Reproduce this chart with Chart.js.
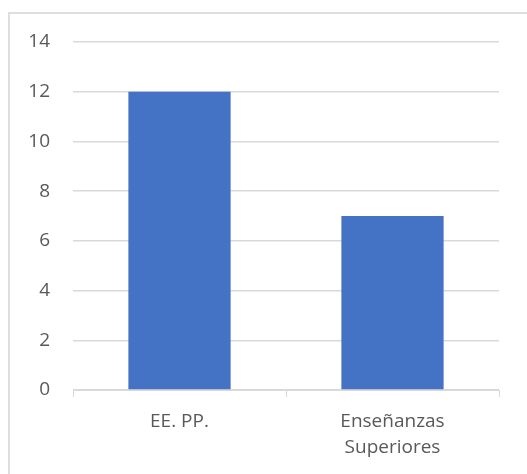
<!DOCTYPE html>
<html>
<head>
<meta charset="utf-8">
<script src="https://cdn.jsdelivr.net/npm/chart.js@4"></script>
<style>
  html, body { margin: 0; padding: 0; background: #fff; }
  #wrap {
    position: absolute; left: 8px; top: 12px;
    border-left: 2px solid #dedede; border-top: 2px solid #dedede;
  }
  canvas { display: block; }
</style>
</head>
<body>
<div id="wrap"><canvas id="grafico" width="517" height="460"></canvas></div>
<script>
// Datos
const categorias = ['EE. PP.', ['Enseñanzas', 'Superiores']];
const valores = [12, 7];
const marcasY = [0, 2, 4, 6, 8, 10, 12, 14];

const ctx = document.getElementById('grafico').getContext('2d');
const grafico = new Chart(ctx, {
    type: 'bar',
    data: {
        labels: categorias,
        datasets: [{
            label: 'Total',
            data: valores,
            backgroundColor: '#4472C4',
            barPercentage: 0.48,
            categoryPercentage: 1
        }]
    },
    options: {
        responsive: false,
        animation: false,
        layout: { padding: { top: 28, right: 28, bottom: 0, left: 0 } },
        plugins: {
            legend: { display: false },
            tooltip: { enabled: false }
        },
        scales: {
            x: {
                grid: {
                    offset: true,
                    drawOnChartArea: false,
                    drawTicks: true,
                    tickLength: 7,
                    color: '#d9d9d9'
                },
                border: { display: true, color: '#d9d9d9' },
                ticks: {
                    color: '#595959',
                    padding: 11,
                    font: { family: 'Open Sans', size: 19, lineHeight: 1.4 }
                },
                afterFit: (s) => { s.height = 84; }
            },
            y: {
                min: 0,
                max: 14,
                afterBuildTicks: (s) => { s.ticks = marcasY.map(v => ({ value: v })); },
                // hueco entre etiquetas y área con marcas invisibles
                grid: {
                    color: '#d9d9d9',
                    lineWidth: 1.5,
                    drawTicks: true,
                    tickLength: 23,
                    tickColor: 'rgba(0,0,0,0)'
                },
                border: { display: false },
                ticks: {
                    color: '#595959',
                    padding: 0,
                    font: { family: 'Open Sans', size: 19 }
                },
                afterFit: (s) => { s.width = 63; }
            }
        }
    }
});
</script>
</body>
</html>
